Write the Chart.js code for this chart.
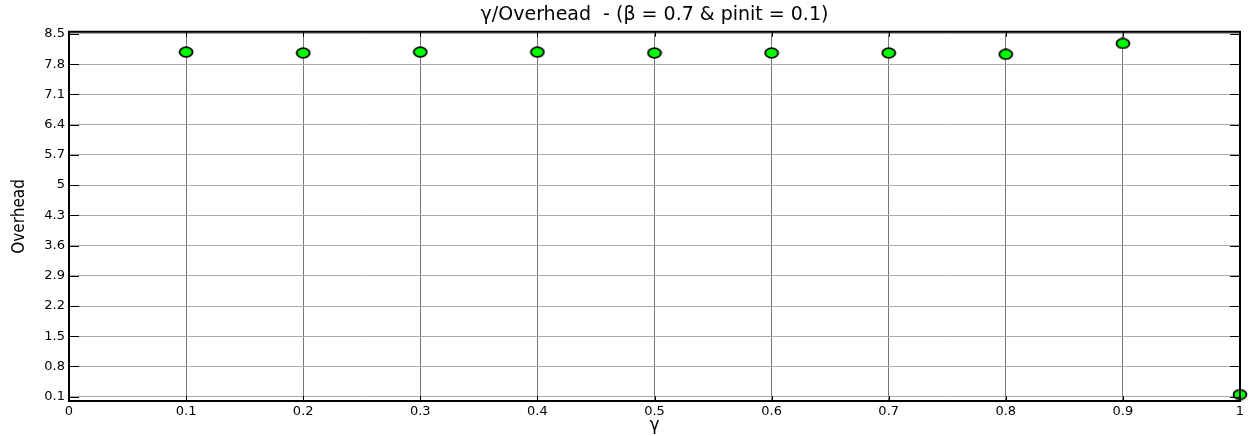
<!DOCTYPE html>
<html>
<head>
<meta charset="utf-8">
<script src="https://cdn.jsdelivr.net/npm/chart.js@4"></script>
<style>
  html, body { margin: 0; padding: 0; background: #fff; }
  #wrap { width: 1250px; height: 436px; }
</style>
</head>
<body>
<div id="wrap"><canvas id="chart" width="1250" height="436"></canvas></div>
<script>
// data
const gammaValues = [0.1, 0.2, 0.3, 0.4, 0.5, 0.6, 0.7, 0.8, 0.9, 1.0];
const overheadValues = [8.08, 8.06, 8.08, 8.08, 8.06, 8.06, 8.06, 8.03, 8.28, 0.15];
const xTickValues = [0, 0.1, 0.2, 0.3, 0.4, 0.5, 0.6, 0.7, 0.8, 0.9, 1];
const yTickValues = [0.1, 0.8, 1.5, 2.2, 2.9, 3.6, 4.3, 5, 5.7, 6.4, 7.1, 7.8, 8.5];

// elliptical green marker like the matlab one
function makeMarker() {
    const c = document.createElement('canvas');
    c.width = 16;
    c.height = 12;
    const g = c.getContext('2d');
    g.beginPath();
    g.ellipse(8, 6, 6.5, 4.8, 0, 0, Math.PI * 2);
    g.fillStyle = '#00ff00';
    g.fill();
    g.lineWidth = 1.8;
    g.strokeStyle = '#000';
    g.stroke();
    return c;
}

// frame + inward ticks
const framePlugin = {
    id: 'frame',
    afterDatasetsDraw(chart) {
        const { ctx, chartArea: a, scales } = chart;
        ctx.save();
        ctx.strokeStyle = '#000';
        ctx.lineWidth = 1;
        xTickValues.forEach(v => {
            const px = Math.round(scales.x.getPixelForValue(v)) + 0.5;
            ctx.beginPath();
            ctx.moveTo(px, a.bottom); ctx.lineTo(px, a.bottom - 5);
            ctx.moveTo(px, a.top); ctx.lineTo(px, a.top + 5);
            ctx.stroke();
        });
        yTickValues.forEach(v => {
            const py = Math.round(scales.y.getPixelForValue(v)) + 0.5;
            ctx.beginPath();
            ctx.moveTo(a.left, py); ctx.lineTo(a.left + 10, py);
            ctx.moveTo(a.right, py); ctx.lineTo(a.right - 10, py);
            ctx.stroke();
        });
        ctx.lineWidth = 2;
        ctx.strokeRect(a.left, a.top, a.right - a.left, a.bottom - a.top);
        ctx.restore();
    }
};

const font = "'DejaVu Sans', sans-serif";

new Chart(document.getElementById('chart'), {
    type: 'scatter',
    data: {
        datasets: [{
            label: 'Overhead',
            data: gammaValues.map((g, i) => ({ x: g, y: overheadValues[i] })),
            pointStyle: makeMarker(),
            pointRadius: 6,
            clip: false
        }]
    },
    options: {
        responsive: false,
        animation: false,
        layout: { padding: { left: 0, right: 10, top: 0, bottom: 0 } },
        plugins: {
            legend: { display: false },
            tooltip: { enabled: false },
            title: {
                display: true,
                fullSize: false,
                text: 'γ/Overhead  - (β = 0.7 & pinit = 0.1)',
                color: '#000',
                font: { family: font, size: 19, weight: 'normal' },
                padding: { top: 4, bottom: 5 }
            }
        },
        scales: {
            x: {
                type: 'linear',
                min: 0,
                max: 1,
                afterBuildTicks: s => { s.ticks = xTickValues.map(v => ({ value: v })); },
                afterFit: s => { s.height = 35; },
                ticks: {
                    color: '#000',
                    font: { family: font, size: 13 },
                    padding: 3,
                    maxRotation: 0,
                    callback: v => String(v)
                },
                grid: { color: '#777', lineWidth: 1, drawTicks: false },
                border: { display: false },
                title: {
                    display: true,
                    text: 'γ',
                    color: '#000',
                    font: { family: font, size: 17 },
                    padding: { top: 0, bottom: 0 }
                }
            },
            y: {
                type: 'linear',
                min: 0,
                max: 8.55,
                afterBuildTicks: s => { s.ticks = yTickValues.map(v => ({ value: v })); },
                afterFit: s => { s.width = 69; },
                ticks: {
                    color: '#000',
                    font: { family: font, size: 13 },
                    padding: 4,
                    callback: v => String(v)
                },
                grid: { color: '#aaa', lineWidth: 1, drawTicks: false },
                border: { display: false },
                title: {
                    display: true,
                    text: 'Overhead',
                    color: '#000',
                    font: { family: "'DejaVu Sans Condensed', 'DejaVu Sans', sans-serif", size: 17 },
                    padding: { top: 9, bottom: 0 }
                }
            }
        }
    },
    plugins: [framePlugin]
});
</script>
</body>
</html>
